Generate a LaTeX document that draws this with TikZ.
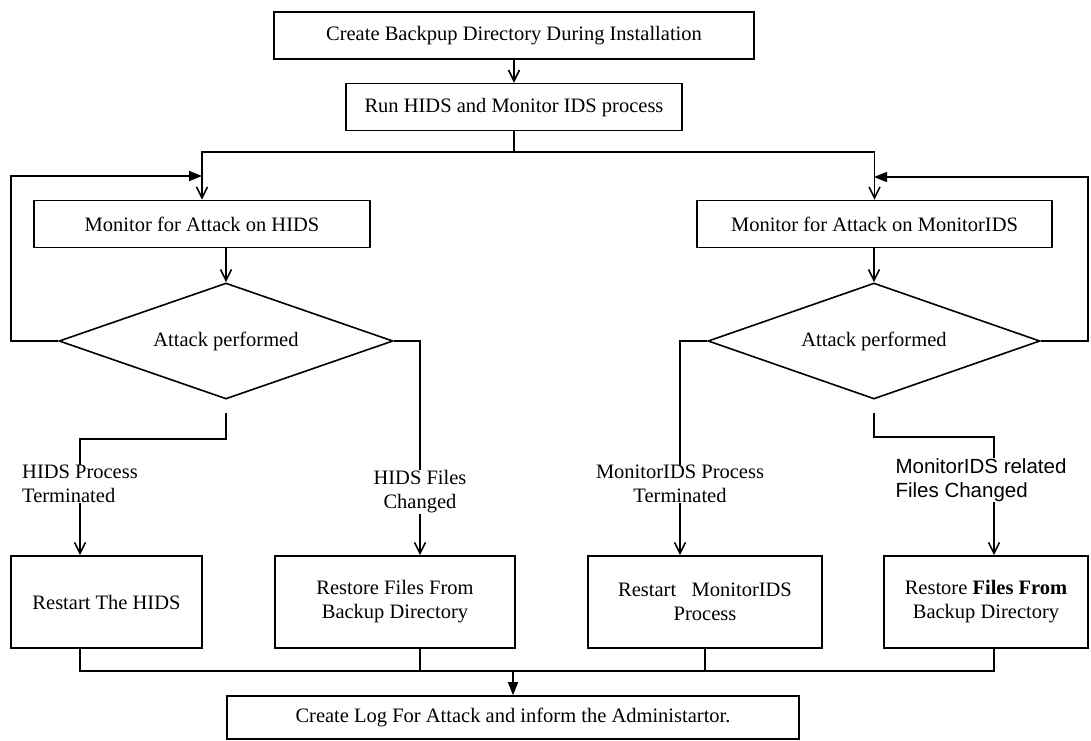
\documentclass[tikz,border=0pt]{standalone}
\usepackage{fontspec}
\setmainfont{Liberation Serif}
\newfontfamily\arialfont{Liberation Sans}
\usetikzlibrary{arrows.meta,positioning,shapes.geometric}
\newcommand\flowsize{\fontsize{20.5}{24}\selectfont}
\tikzset{
  stepbox/.style={draw,line width=1.6pt,inner sep=0pt,align=center,font=\flowsize},
  decide/.style={draw,diamond,aspect=2.88,line width=1.6pt,inner sep=0pt,
    minimum width=334pt,minimum height=116pt,font=\flowsize},
  branchlabel/.style={inner sep=0pt,font=\flowsize},
  flowline/.style={line width=1.6pt},
  flowarrow/.style={line width=1.6pt,-{Straight Barb[length=11pt,width=11pt]}},
  looparrow/.style={line width=1.6pt,-{Triangle[length=13pt,width=10pt]}}
}
\begin{document}
\begin{tikzpicture}[x=1pt,y=-1pt,node distance=23pt]
\useasboundingbox (0,0) rectangle (1091,740);
\node[stepbox,minimum width=480pt,minimum height=47pt] (backup) at (514,35.5) {Create Backpup Directory During Installation};
\node[stepbox,minimum width=336pt,minimum height=47pt,below=of backup] (runids) {Run HIDS and Monitor IDS process};
\node[stepbox,minimum width=336pt,minimum height=47pt] (monhids) at (202,224) {Monitor for Attack on HIDS};
\node[stepbox,minimum width=355pt,minimum height=47pt] (monmids) at (874.5,224) {Monitor for Attack on MonitorIDS};
\node[decide] (dhids) at (226,341) {Attack performed};
\node[decide,minimum width=332pt] (dmids) at (874,341) {Attack performed};
\node[branchlabel,align=left] (lterm) at (80,484) {HIDS Process\\Terminated};
\node[branchlabel,align=center] (lchg) at (420,492) {HIDS Files\\Changed};
\node[branchlabel,align=center] (rterm) at (680,484) {MonitorIDS Process\\Terminated};
\node[branchlabel,align=left,font=\arialfont\flowsize] (rchg) at (981,480) {MonitorIDS related\\ Files Changed};
\node[stepbox,minimum width=191pt,minimum height=92pt] (restart) at (106.5,602) {Restart The HIDS};
\node[stepbox,minimum width=240pt,minimum height=92pt] (restore) at (395,602) {Restore Files From\\Backup Directory};
\node[stepbox,minimum width=234pt,minimum height=92pt] (restartm) at (705,602) {Restart\ \ \ MonitorIDS\\Process};
\node[stepbox,minimum width=204pt,minimum height=92pt] (restorem) at (986,602) {Restore \textbf{Files From}\\Backup Directory};
\node[stepbox,minimum width=572pt,minimum height=43pt] (logbox) at (513,717.5) {Create Log For Attack and inform the Administartor.};
\coordinate (split) at (514,152);
\coordinate (loopl) at (202,176);
\coordinate (loopr) at (874,177);
\coordinate (merge) at (513,671);
\draw[flowarrow] (backup) -- (runids);
\draw[flowline] (runids) -- (split);
\draw[flowarrow] (split) -| (monhids.north);
\draw[flowarrow] (split) -| (monmids.north);
\draw[flowarrow] (monhids.south -| dhids.north) -- (dhids.north);
\draw[flowarrow] (monmids.south -| dmids.north) -- (dmids.north);
\draw[looparrow] (dhids.west) -- (11,341) |- (loopl);
\draw[looparrow] (dmids.east) -- (1088,341) |- (loopr);
\draw[flowline,shorten <=13pt] (dhids.south) -- ++(0,39) -| (lterm.north);
\draw[flowline] (dhids.east) -| (lchg.north);
\draw[flowline] (dmids.west) -| (rterm.north);
\draw[flowline,shorten <=13pt] (dmids.south) -- ++(0,37) -| ([xshift=13pt]rchg.north);
\draw[flowarrow] (lterm.south) -- (lterm.south |- restart.north);
\draw[flowarrow] (lchg.south) -- (lchg.south |- restore.north);
\draw[flowarrow] (rterm.south) -- (rterm.south |- restartm.north);
\draw[flowarrow] ([xshift=13pt]rchg.south) -- ([xshift=13pt]rchg.south |- restorem.north);
\draw[flowline] (lterm.south |- restart.south) |- (merge);
\draw[flowline] (lchg.south |- restore.south) |- (merge);
\draw[flowline] (restartm.south) |- (merge);
\draw[flowline] ([xshift=8pt]restorem.south) |- (merge);
\draw[looparrow] (merge) -- (logbox.north);
\end{tikzpicture}
\end{document}
